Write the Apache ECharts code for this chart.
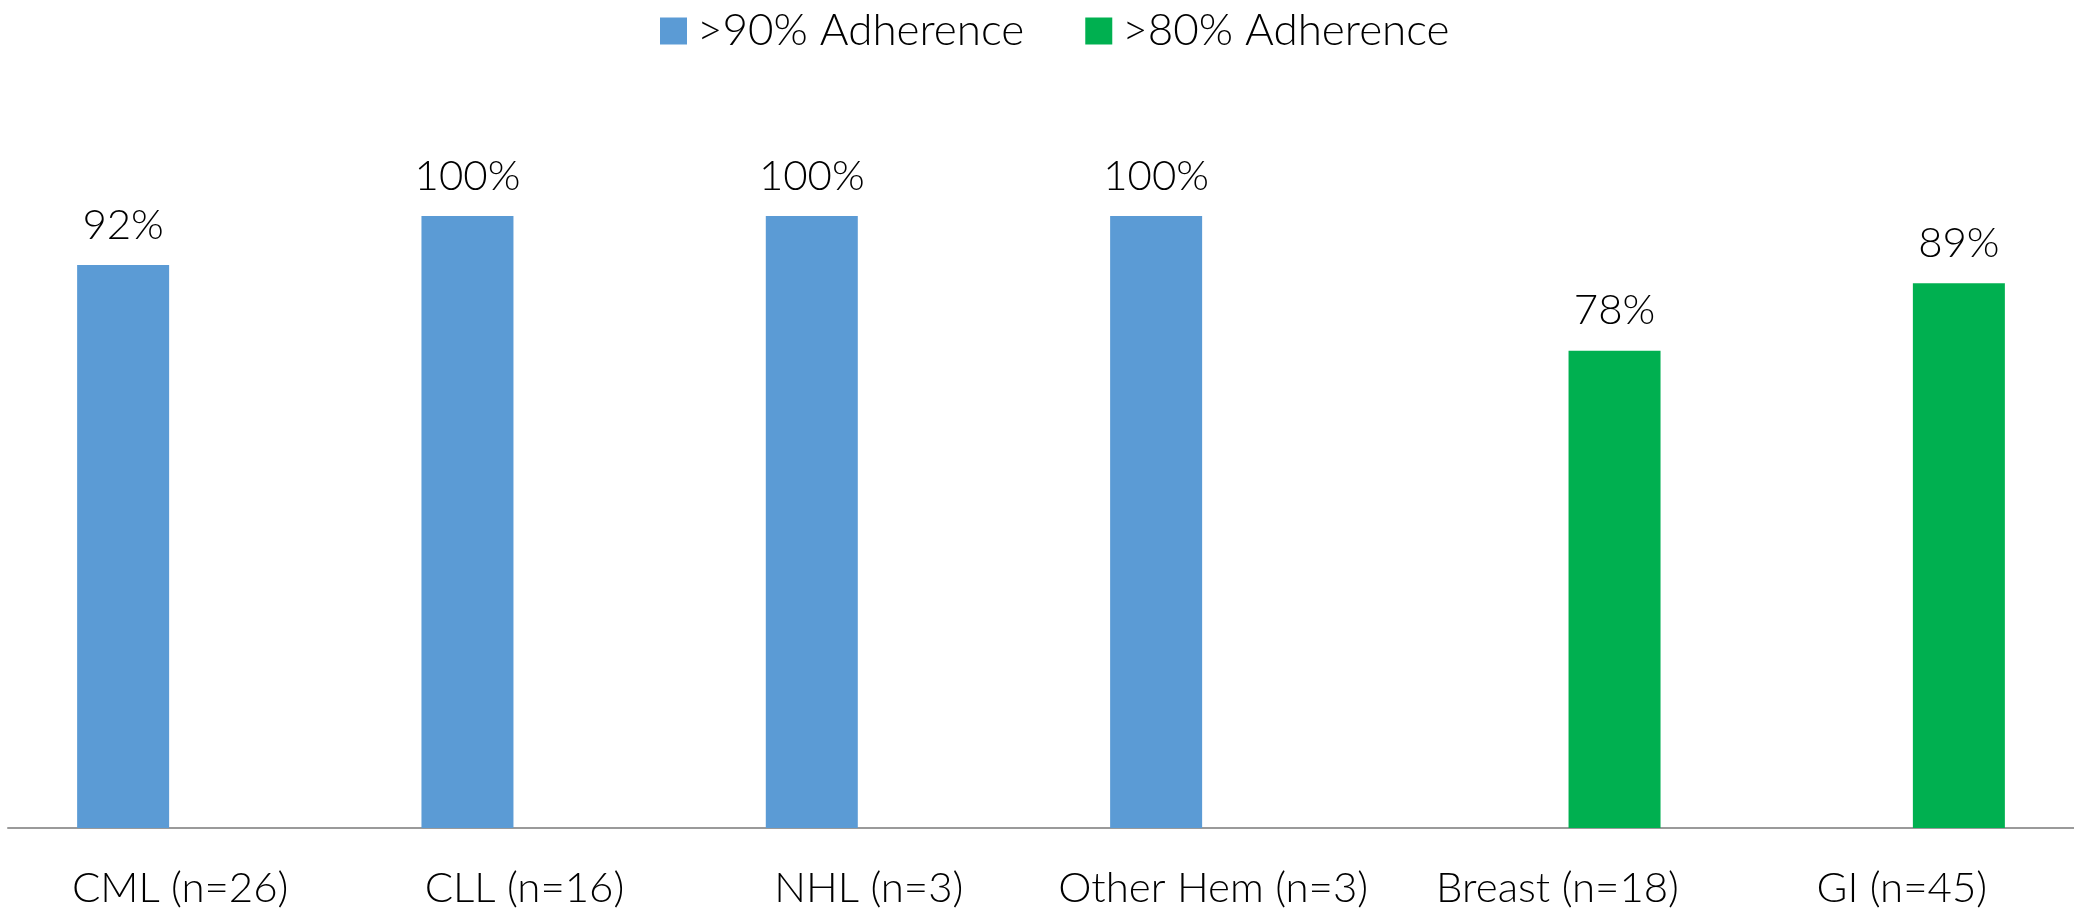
<!DOCTYPE html>
<html>
<head>
<meta charset="utf-8">
<title>Adherence by cancer type</title>
<script src="https://cdn.jsdelivr.net/npm/echarts@6/dist/echarts.min.js"></script>
<style>
  html, body { margin: 0; padding: 0; background: #fff; }
  #chart { width: 2074px; height: 913px; }
</style>
</head>
<body>
<div id="chart"></div>
<script>
// Cancer types (x-axis categories)
const categories = ['CML (n=26)', 'CLL (n=16)', 'NHL (n=3)', 'Other Hem (n=3)', 'Breast (n=18)', 'GI (n=45)'];

// Series names
const seriesNames = ['>90% Adherence', '>80% Adherence'];

// Percent of patients adherent; '-' where the group has no value
const adherence90 = [92, 100, 100, 100, '-', '-'];
const adherence80 = ['-', '-', '-', '-', 78, 89];

const FONT = 'Lato';
const chart = echarts.init(document.getElementById('chart'), null, { renderer: 'canvas' });

const valueLabel = {
  show: true,
  position: 'top',
  distance: 19,
  formatter: '{c}%',
  color: '#000',
  fontFamily: FONT,
  fontWeight: 300,
  fontSize: 42
};

chart.setOption({
  animation: false,
  backgroundColor: '#fff',
  legend: {
    top: 4,
    left: 655,
    itemWidth: 27,
    itemHeight: 27,
    itemGap: 61,
    icon: 'rect',
    textStyle: { fontFamily: FONT, fontWeight: 300, fontSize: 44, color: '#000', padding: [0, 0, 0, 5] },
    data: seriesNames
  },
  grid: { left: 8, width: 2070, top: 93.6, height: 734.4, containLabel: false },
  xAxis: {
    type: 'category',
    data: categories,
    axisLine: { show: true, lineStyle: { color: '#9a9a9a', width: 2 } },
    axisTick: { show: false },
    axisLabel: {
      interval: 0,
      margin: 39,
      color: '#000',
      fontFamily: FONT,
      fontWeight: 300,
      fontSize: 42
    }
  },
  yAxis: {
    type: 'value',
    min: 0,
    max: 120,
    show: false,
    splitLine: { show: false }
  },
  series: [
    {
      name: seriesNames[0],
      type: 'bar',
      data: adherence90,
      barWidth: 92,
      barGap: '24%',
      itemStyle: { color: '#5B9BD5' },
      label: valueLabel
    },
    {
      name: seriesNames[1],
      type: 'bar',
      data: adherence80,
      barWidth: 92,
      barGap: '24%',
      itemStyle: { color: '#00B050' },
      label: valueLabel
    }
  ]
});
</script>
</body>
</html>
